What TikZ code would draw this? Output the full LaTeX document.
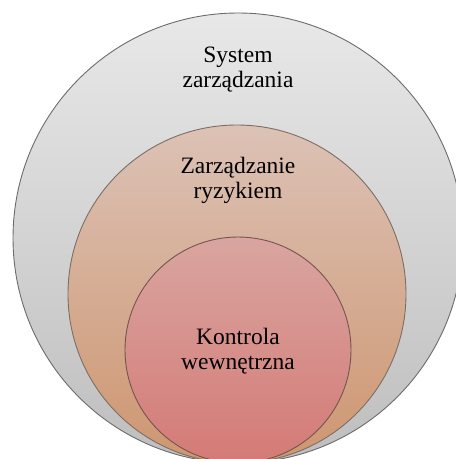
\documentclass[tikz,border=0pt]{standalone}
\usepackage{fontspec}
\setmainfont{Liberation Serif}
\begin{document}
\begin{tikzpicture}[x=1pt,y=-1pt,
  ring/.style={circle, inner sep=0pt, line width=0.9pt},
  label/.style={align=center, inner sep=0pt, font=\fontsize{23.5}{25}\selectfont, text=black}]
  \useasboundingbox (0,0) rectangle (456,459);
  % outer circle: management system
  \node[ring, draw=gray!85!black, minimum size=450pt,
        top color={rgb,255:red,232;green,232;blue,232}, bottom color={rgb,255:red,190;green,190;blue,190}]
        (outer) at (238,238) {};
  % middle circle: risk management
  \node[ring, draw={rgb,255:red,125;green,110;blue,100}, minimum size=338pt,
        top color={rgb,255:red,220;green,194;blue,182}, bottom color={rgb,255:red,206;green,150;blue,112}]
        (middle) at (237,294) {};
  % inner circle: internal control
  \node[ring, draw={rgb,255:red,115;green,85;blue,80}, minimum size=226pt,
        top color={rgb,255:red,217;green,165;blue,160}, bottom color={rgb,255:red,212;green,122;blue,118}]
        (inner) at (238,350) {};
  \node[label] (toutr) at (238,70) {System\\zarządzania};
  \node[label] (tmid) at (238,180) {Zarządzanie\\ryzykiem};
  \node[label] (tinn) at (238,351.5) {Kontrola\\wewnętrzna};
\end{tikzpicture}
\end{document}
